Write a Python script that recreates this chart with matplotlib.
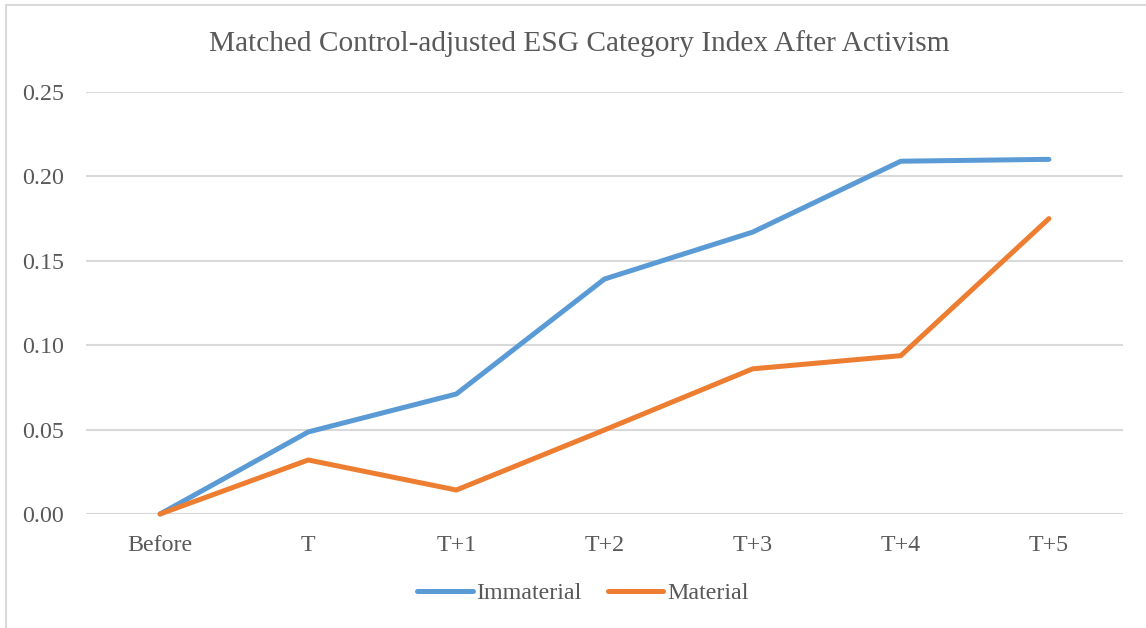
import matplotlib
matplotlib.use("Agg")
import matplotlib.pyplot as plt
from matplotlib.patches import Rectangle
import numpy as np

plt.rcParams['font.family'] = ['Liberation Serif', 'DejaVu Serif']

categories = ["Before", "T", "T+1", "T+2", "T+3", "T+4", "T+5"]
immaterial = [0.000, 0.0486, 0.0711, 0.1392, 0.1670, 0.2090, 0.2101]
material = [0.000, 0.0320, 0.0142, 0.0498, 0.0860, 0.0938, 0.1750]
yticks = [0.00, 0.05, 0.10, 0.15, 0.20, 0.25]

text_color = "#595959"
grid_color = "#d9d9d9"

W, H = 1146, 628
fig = plt.figure(figsize=(W / 100, H / 100), dpi=100)
ax = fig.add_axes([86 / W, 1 - 514 / H, (1123 - 86) / W, (514 - 92) / H])

x = np.arange(len(categories))
ax.plot(x, immaterial, color="#5B9BD5", lw=3.6, solid_capstyle="round",
        solid_joinstyle="round", label="Immaterial", zorder=3, clip_on=False)
ax.plot(x, material, color="#ED7D31", lw=3.6, solid_capstyle="round",
        solid_joinstyle="round", label="Material", zorder=3, clip_on=False)

ax.set_xlim(-0.5, len(categories) - 0.5)
ax.set_ylim(0, 0.25)
ax.set_yticks(yticks)
ax.set_yticklabels([f"{v:.2f}" for v in yticks])
ax.set_xticks(x)
ax.set_xticklabels(categories)
ax.yaxis.grid(True, color=grid_color, lw=1.5)
ax.set_axisbelow(True)
for s in ax.spines.values():
    s.set_visible(False)
ax.tick_params(length=0, labelsize=17.3, colors=text_color)
ax.tick_params(axis="y", pad=16)
ax.tick_params(axis="x", pad=15)

fig.text(579 / W, 1 - 44 / H, "Matched Control-adjusted ESG Category Index After Activism",
         ha="center", va="center", fontsize=21.2, color=text_color)

leg = fig.legend(loc="center", bbox_to_anchor=(583 / W, 1 - 593 / H), ncol=2,
                 frameon=False, fontsize=17.3, handlelength=2.3, handletextpad=0.15,
                 columnspacing=1.1)
for t in leg.get_texts():
    t.set_color(text_color)

fig.patches.append(Rectangle((5.5 / W, -0.1), 1.2, 1 - 5.5 / H + 0.1,
                             transform=fig.transFigure, fill=False,
                             edgecolor=grid_color, lw=1.5))

fig.savefig("out.png", dpi=100)
